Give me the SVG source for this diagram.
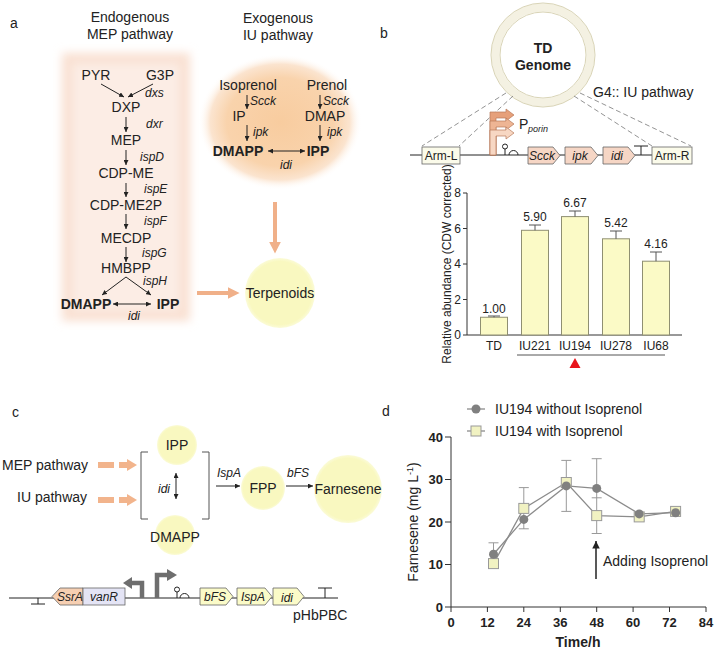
<svg xmlns="http://www.w3.org/2000/svg" width="715" height="650" viewBox="0 0 715 650">
<defs>
<style>
text{font-family:"Liberation Sans",Arial,sans-serif;fill:#222;}
.t14{font-size:14px;}
.t12{font-size:12px;}
.it{font-style:italic;font-size:12px;}
.b{font-weight:bold;}
.mid{text-anchor:middle;}
.end{text-anchor:end;}
.ln{stroke:#222;stroke-width:1;fill:none;}
.ar{stroke:#222;stroke-width:1;fill:none;marker-end:url(#ah);}
.dar{stroke:#222;stroke-width:1;fill:none;marker-end:url(#ah);marker-start:url(#ahs);}
.orange{stroke:#f0b089;stroke-width:4;fill:none;}
.gene{stroke:#666;stroke-width:0.8;}
.dash{stroke:#777;stroke-width:0.8;stroke-dasharray:5,3;fill:none;}
.bar{fill:#fbfac6;stroke:#8f8f72;stroke-width:1;}
.err{stroke:#555;stroke-width:1;fill:none;}
.derr{stroke:#999;stroke-width:1;fill:none;}
</style>
<marker id="ah" viewBox="0 0 6 6" refX="6" refY="3" markerWidth="5" markerHeight="5" orient="auto"><path d="M0,0 L6,3 L0,6 z" fill="#222"/></marker>
<marker id="ahs" viewBox="0 0 6 6" refX="6" refY="3" markerWidth="5" markerHeight="5" orient="auto-start-reverse"><path d="M0,0 L6,3 L0,6 z" fill="#222"/></marker>
<marker id="oh" viewBox="0 0 10 10" refX="2" refY="5" markerWidth="3" markerHeight="3" orient="auto"><path d="M0,0 L10,5 L0,10 z" fill="#f0b089"/></marker>
<radialGradient id="orangeGlow" cx="50%" cy="50%" r="50%">
<stop offset="0" stop-color="#f8cc9f"/>
<stop offset="0.65" stop-color="#f9d3ac"/>
<stop offset="0.85" stop-color="#fbe4cf"/>
<stop offset="1" stop-color="#ffffff" stop-opacity="0"/>
</radialGradient>
<radialGradient id="yGlow" cx="50%" cy="50%" r="50%">
<stop offset="0" stop-color="#f9f8c0"/>
<stop offset="0.9" stop-color="#f9f8c0"/>
<stop offset="1" stop-color="#fbfbd8"/>
</radialGradient>
<filter id="blur" x="-20%" y="-20%" width="140%" height="140%"><feGaussianBlur stdDeviation="5"/></filter>
</defs>
<rect width="715" height="650" fill="#ffffff"/>

<!-- Panel a -->
<g id="panel-a">
<text x="10" y="28" class="t14">a</text>
<text x="130" y="22" class="t14 mid">Endogenous</text>
<text x="130" y="39" class="t14 mid">MEP pathway</text>
<text x="278" y="23" class="t14 mid">Exogenous</text>
<text x="278" y="40" class="t14 mid">IU pathway</text>
<rect x="62" y="53" width="128" height="268" fill="#f9e0d1" filter="url(#blur)"/>
<rect x="72" y="63" width="108" height="248" fill="#fcede5" filter="url(#blur)"/>
<ellipse cx="280" cy="122" rx="82" ry="68" fill="url(#orangeGlow)"/>
</g>

<g id="mep-nodes">
<text x="96" y="80" class="t14 mid">PYR</text>
<text x="160" y="80" class="t14 mid">G3P</text>
<text x="145" y="97" class="it">dxs</text>
<text x="126" y="112" class="t14 mid">DXP</text>
<text x="146" y="128" class="it">dxr</text>
<text x="126" y="145" class="t14 mid">MEP</text>
<text x="140" y="161" class="it">ispD</text>
<text x="126" y="178" class="t14 mid">CDP-ME</text>
<text x="144" y="193" class="it">ispE</text>
<text x="126" y="210" class="t14 mid">CDP-ME2P</text>
<text x="144" y="225" class="it">ispF</text>
<text x="126" y="243" class="t14 mid">MECDP</text>
<text x="142" y="257" class="it">ispG</text>
<text x="126" y="273" class="t14 mid">HMBPP</text>
<text x="143" y="285" class="it">ispH</text>
<text x="86" y="309" class="t14 b mid">DMAPP</text>
<text x="168" y="309" class="t14 b mid">IPP</text>
<text x="134" y="320" class="it mid">idi</text>
</g>

<g id="iu-nodes">
<text x="248" y="90" class="t14 mid">Isoprenol</text>
<text x="327" y="90" class="t14 mid">Prenol</text>
<text x="250" y="105" class="it">Scck</text>
<text x="323" y="105" class="it">Scck</text>
<text x="239" y="121" class="t14 mid">IP</text>
<text x="325" y="121" class="t14 mid">DMAP</text>
<text x="253" y="136" class="it">ipk</text>
<text x="327" y="136" class="it">ipk</text>
<text x="238" y="156" class="t14 b mid">DMAPP</text>
<text x="318" y="156" class="t14 b mid">IPP</text>
<text x="286" y="169" class="it mid">idi</text>
</g>

<g id="terpenoids">
<circle cx="280" cy="293" r="35" fill="url(#yGlow)"/>
<text x="280" y="298" class="t14 mid">Terpenoids</text>
</g>

<g id="connectors-a">
<line x1="101" y1="84" x2="124" y2="97" class="ar"/>
<line x1="153" y1="84" x2="128" y2="97" class="ar"/>
<line x1="126" y1="117" x2="126" y2="132" class="ar"/>
<line x1="126" y1="150" x2="126" y2="165" class="ar"/>
<line x1="126" y1="183" x2="126" y2="197" class="ar"/>
<line x1="126" y1="214" x2="126" y2="229" class="ar"/>
<line x1="126" y1="247" x2="126" y2="262" class="ar"/>
<line x1="126" y1="277" x2="102" y2="295" class="ar"/>
<line x1="126" y1="277" x2="151" y2="295" class="ar"/>
<line x1="113" y1="304" x2="151" y2="304" class="dar"/>
<line x1="247" y1="95" x2="247" y2="109" class="ar"/>
<line x1="320" y1="95" x2="320" y2="109" class="ar"/>
<line x1="247" y1="125" x2="247" y2="141" class="ar"/>
<line x1="320" y1="125" x2="320" y2="141" class="ar"/>
<line x1="268" y1="151" x2="305" y2="151" class="dar"/>
<line x1="275" y1="202" x2="275" y2="244" class="orange" marker-end="url(#oh)"/>
<line x1="197" y1="293" x2="230" y2="293" class="orange" marker-end="url(#oh)"/>
</g>

<!-- Panel b -->
<g id="panel-b">
<text x="380" y="38" class="t14">b</text>
<circle cx="543" cy="55" r="47.5" fill="none" stroke="#f4f1e2" stroke-width="8"/>
<circle cx="543" cy="55" r="52" fill="none" stroke="#d9d4b6" stroke-width="1"/>
<circle cx="543" cy="55" r="43" fill="none" stroke="#d9d4b6" stroke-width="1"/>
<text x="543" y="53" class="t14 b mid">TD</text>
<text x="543" y="70" class="t14 b mid">Genome</text>
<text x="593" y="97" class="t14">G4:: IU pathway</text>
</g>

<g id="connectors-b">
<line x1="506" y1="93" x2="422" y2="146" class="dash"/>
<line x1="513" y1="96" x2="459" y2="146" class="dash"/>
<line x1="574" y1="96" x2="652" y2="146" class="dash"/>
<line x1="580" y1="93" x2="691" y2="146" class="dash"/>
<line x1="410" y1="155" x2="652" y2="155" class="ln"/>
</g>

<g id="construct-b">
<rect x="422" y="147" width="38" height="17" fill="#fbfbea" class="gene"/>
<text x="441" y="160" class="t12 mid">Arm-L</text>
<polygon points="490,155 490,112 506,112 506,109 514,115 506,121 506,118 496,118 496,155" fill="#e6a07a" stroke="#b87a5a" stroke-width="0.7"/>
<polygon points="490,155 490,121 506,121 506,118 514,124 506,130 506,127 496,127 496,155" fill="#eeb594" stroke="#b87a5a" stroke-width="0.7"/>
<polygon points="490,155 490,130 506,130 506,127 514,133 506,139 506,136 496,136 496,155" fill="#f7d7c3" stroke="#b87a5a" stroke-width="0.7"/>
<text x="519" y="129" class="t14">P</text><text x="528" y="132" style="font-size:9px;font-style:italic">porin</text>
<line x1="505" y1="155" x2="505" y2="149" class="ln"/>
<circle cx="505" cy="146.5" r="2.5" fill="#fff" stroke="#222" stroke-width="1"/>
<path d="M509,155 A4.5,4.5 0 0 1 518,155" class="ln"/>
<polygon points="528,147 553,147 560,155.5 553,164 528,164" fill="#f6d6c5" class="gene"/>
<text x="542" y="160" class="it mid">Scck</text>
<polygon points="565,147 591,147 598,155.5 591,164 565,164" fill="#f6d6c5" class="gene"/>
<text x="580" y="160" class="it mid">ipk</text>
<polygon points="603,147 628,147 635,155.5 628,164 603,164" fill="#f6d6c5" class="gene"/>
<text x="617" y="160" class="it mid">idi</text>
<line x1="641" y1="155" x2="641" y2="146" class="ln"/>
<line x1="634" y1="146" x2="648" y2="146" class="ln"/>
<rect x="652" y="147" width="40" height="17" fill="#fbfbea" class="gene"/>
<text x="672" y="160" class="t12 mid">Arm-R</text>
</g>

<g id="chart-b">
<line x1="467" y1="193" x2="467" y2="335" stroke="#333" stroke-width="1"/>
<line x1="467" y1="335" x2="682" y2="335" stroke="#333" stroke-width="1"/>
<g stroke="#333" stroke-width="1">
<line x1="463" y1="193" x2="467" y2="193"/><line x1="463" y1="228.5" x2="467" y2="228.5"/><line x1="463" y1="264" x2="467" y2="264"/><line x1="463" y1="299.5" x2="467" y2="299.5"/><line x1="463" y1="335" x2="467" y2="335"/>
</g>
<text x="461" y="197" class="t12 end">8</text>
<text x="461" y="233" class="t12 end">6</text>
<text x="461" y="268" class="t12 end">4</text>
<text x="461" y="304" class="t12 end">2</text>
<text x="461" y="339" class="t12 end">0</text>
<text transform="translate(451,264) rotate(-90)" class="t12 mid">Relative abundance (CDW corrected)</text>
<rect x="480.5" y="317.25" width="27" height="17.75" class="bar"/>
<rect x="521.5" y="230.3" width="27" height="104.7" class="bar"/>
<rect x="561.5" y="216.6" width="27" height="118.4" class="bar"/>
<rect x="602.5" y="238.8" width="27" height="96.2" class="bar"/>
<rect x="642.5" y="261.2" width="27" height="73.8" class="bar"/>
<path d="M494,317.25 V316 M488,316 H500 M535,230.3 V225 M529,225 H541 M575,216.6 V211 M569,211 H581 M616,238.8 V231 M610,231 H622 M656,261.2 V252 M650,252 H662" class="err"/>
<text x="494" y="313" class="t12 mid">1.00</text>
<text x="535" y="221" class="t12 mid">5.90</text>
<text x="575" y="207" class="t12 mid">6.67</text>
<text x="616" y="227" class="t12 mid">5.42</text>
<text x="656" y="248" class="t12 mid">4.16</text>
<text x="494" y="350" class="t12 mid">TD</text>
<text x="535" y="350" class="t12 mid">IU221</text>
<text x="575" y="350" class="t12 mid">IU194</text>
<text x="616" y="350" class="t12 mid">IU278</text>
<text x="656" y="350" class="t12 mid">IU68</text>
<line x1="517" y1="355" x2="665" y2="355" stroke="#555" stroke-width="1"/>
<polygon points="575,358 569.5,368 580.5,368" fill="#e8141b"/>
</g>

<!-- Panel c -->
<g id="panel-c">
<text x="12" y="417" class="t14">c</text>
<text x="2" y="470" class="t14">MEP pathway</text>
<text x="17" y="502" class="t14">IU pathway</text>
</g>
<g id="ipp-c"><circle cx="177" cy="445" r="20" fill="url(#yGlow)"/><text x="177" y="450" class="t14 mid">IPP</text></g>
<g id="dmapp-c"><circle cx="175" cy="535" r="20" fill="url(#yGlow)"/><text x="175" y="542" class="t14 mid">DMAPP</text></g>
<g id="fpp-c"><circle cx="263" cy="488" r="22" fill="url(#yGlow)"/><text x="263" y="493" class="t14 mid">FPP</text></g>
<g id="farnesene-c"><circle cx="348" cy="489" r="34" fill="url(#yGlow)"/><text x="348" y="494" class="t14 mid">Farnesene</text></g>
<g id="connectors-c">
<path d="M148,452 H141 V519 H148 M202,452 H209 V519 H202" stroke="#555" stroke-width="1" fill="none"/>
<g fill="#f2b48c">
<rect x="98" y="462" width="16" height="6"/><rect x="119" y="462" width="9" height="6"/><polygon points="127,459 137,465 127,471"/>
<rect x="98" y="497" width="16" height="6"/><rect x="119" y="497" width="9" height="6"/><polygon points="127,494 137,500 127,506"/>
</g>
<text x="164" y="493" class="it mid">idi</text>
<line x1="176" y1="473" x2="176" y2="499" class="dar"/>
<text x="217" y="477" class="it">IspA</text>
<line x1="216" y1="486" x2="240" y2="486" class="ar"/>
<text x="287" y="477" class="it">bFS</text>
<line x1="286" y1="486" x2="313" y2="486" class="ar"/>
</g>

<g id="construct-c">
<line x1="9" y1="598" x2="338" y2="598" class="ln"/>
<line x1="38" y1="598" x2="38" y2="604" class="ln"/>
<line x1="31" y1="604" x2="45" y2="604" class="ln"/>
<polygon points="52,596.5 60,588 83,588 83,605 60,605" fill="#f6cfb2" class="gene"/>
<text x="70" y="601" class="it mid">SsrA</text>
<rect x="83" y="588" width="42" height="17" fill="#e4e4f5" class="gene"/>
<text x="104" y="601" class="it mid">vanR</text>
<path d="M142,598 V583 H131" stroke="#6e6e6e" stroke-width="4.5" fill="none"/>
<polygon points="132,577 123,583 132,589" fill="#6e6e6e"/>
<path d="M157,598 V575 H168" stroke="#6e6e6e" stroke-width="4.5" fill="none"/>
<polygon points="167,569 177,575 167,581" fill="#6e6e6e"/>
<line x1="177" y1="598" x2="177" y2="592" class="ln"/>
<circle cx="177" cy="589.5" r="2.5" fill="#fff" stroke="#222" stroke-width="1"/>
<path d="M180,598 A4.5,4.5 0 0 1 189,598" class="ln"/>
<polygon points="200,588 226,588 233,596.5 226,605 200,605" fill="#fbfbc8" class="gene"/>
<text x="215" y="601" class="it mid">bFS</text>
<polygon points="237,588 265,588 272,596.5 265,605 237,605" fill="#fbfbc8" class="gene"/>
<text x="253" y="601" class="it mid">IspA</text>
<polygon points="273,588 297,588 304,596.5 297,605 273,605" fill="#fbfbc8" class="gene"/>
<text x="287" y="602" class="it mid">idi</text>
<line x1="325" y1="598" x2="325" y2="588" class="ln"/>
<line x1="318" y1="588" x2="332" y2="588" class="ln"/>
<text x="293" y="620" class="t14">pHbPBC</text>
</g>

<!-- Panel d -->
<g id="panel-d">
<text x="382" y="416" class="t14">d</text>
<line x1="467" y1="409" x2="485" y2="409" stroke="#8c8c8c" stroke-width="1.3"/>
<circle cx="476" cy="409" r="4.5" fill="#808080"/>
<text x="495" y="414" class="t14">IU194 without Isoprenol</text>
<line x1="467" y1="431" x2="485" y2="431" stroke="#8c8c8c" stroke-width="1.3"/>
<rect x="471" y="426" width="10" height="10" fill="#f1f2c2" stroke="#999" stroke-width="1"/>
<text x="495" y="436" class="t14">IU194 with Isoprenol</text>
</g>
<g id="chart-d">
<line x1="451" y1="437" x2="451" y2="607" stroke="#333" stroke-width="1"/>
<line x1="451" y1="607" x2="706" y2="607" stroke="#333" stroke-width="1"/>
<g stroke="#333" stroke-width="1">
<line x1="445" y1="437" x2="451" y2="437"/><line x1="445" y1="479.5" x2="451" y2="479.5"/><line x1="445" y1="522" x2="451" y2="522"/><line x1="445" y1="564.5" x2="451" y2="564.5"/><line x1="445" y1="607" x2="451" y2="607"/>
<line x1="451" y1="607" x2="451" y2="612"/><line x1="487.4" y1="607" x2="487.4" y2="612"/><line x1="523.8" y1="607" x2="523.8" y2="612"/><line x1="560.3" y1="607" x2="560.3" y2="612"/><line x1="596.7" y1="607" x2="596.7" y2="612"/><line x1="633.1" y1="607" x2="633.1" y2="612"/><line x1="669.5" y1="607" x2="669.5" y2="612"/><line x1="706" y1="607" x2="706" y2="612"/>
</g>
<g class="b" style="font-size:13px">
<text x="443" y="442" class="end">40</text>
<text x="443" y="484" class="end">30</text>
<text x="443" y="527" class="end">20</text>
<text x="443" y="569" class="end">10</text>
<text x="443" y="612" class="end">0</text>
<text x="451" y="627" class="mid">0</text>
<text x="487.4" y="627" class="mid">12</text>
<text x="523.8" y="627" class="mid">24</text>
<text x="560.3" y="627" class="mid">36</text>
<text x="596.7" y="627" class="mid">48</text>
<text x="633.1" y="627" class="mid">60</text>
<text x="669.5" y="627" class="mid">72</text>
<text x="706" y="627" class="mid">84</text>
</g>
<text x="578" y="647" class="t14 b mid">Time/h</text>
<text transform="translate(418,522) rotate(-90)" class="t14 mid">Farnesene (mg L<tspan dy="-5" style="font-size:9px">-1</tspan><tspan dy="5">)</tspan></text>
<path d="M493.5,542.8 V566 M488.5,542.8 H498.5 M523.8,487.6 V529 M518.8,487.6 H528.8 M518.8,528.8 H528.8 M566.3,460.4 V511.4 M561.3,460.4 H571.3 M561.3,511.4 H571.3 M596.7,458.7 V533.5 M591.7,458.7 H601.7 M591.7,497.8 H601.7 M591.7,533.5 H601.7 M639.2,511 V519 M675.6,509 V515" class="derr"/>
<polyline points="493.5,554.3 523.8,519.4 566.3,485.9 596.7,488.4 639.2,513.9 675.6,512.7" fill="none" stroke="#8c8c8c" stroke-width="1.3"/>
<polyline points="493.5,563.6 523.8,508.4 566.3,482.5 596.7,515.6 639.2,516.9 675.6,511.4" fill="none" stroke="#8c8c8c" stroke-width="1.3"/>
<g fill="#f1f2c2" stroke="#999" stroke-width="1">
<rect x="488.5" y="558.6" width="10" height="10"/><rect x="518.8" y="503.4" width="10" height="10"/><rect x="561.3" y="477.5" width="10" height="10"/><rect x="591.7" y="510.6" width="10" height="10"/><rect x="634.2" y="511.9" width="10" height="10"/><rect x="670.6" y="506.4" width="10" height="10"/>
</g>
<g fill="#808080">
<circle cx="493.5" cy="554.3" r="4.5"/><circle cx="523.8" cy="519.4" r="4.5"/><circle cx="566.3" cy="485.9" r="4.5"/><circle cx="596.7" cy="488.4" r="4.5"/><circle cx="639.2" cy="513.9" r="4.5"/><circle cx="675.6" cy="512.7" r="4.5"/>
</g>
<line x1="596" y1="579" x2="596" y2="541" stroke="#222" stroke-width="1.5" marker-end="url(#ah)"/>
<text x="603" y="566" class="t14">Adding Isoprenol</text>
</g>
</svg>
